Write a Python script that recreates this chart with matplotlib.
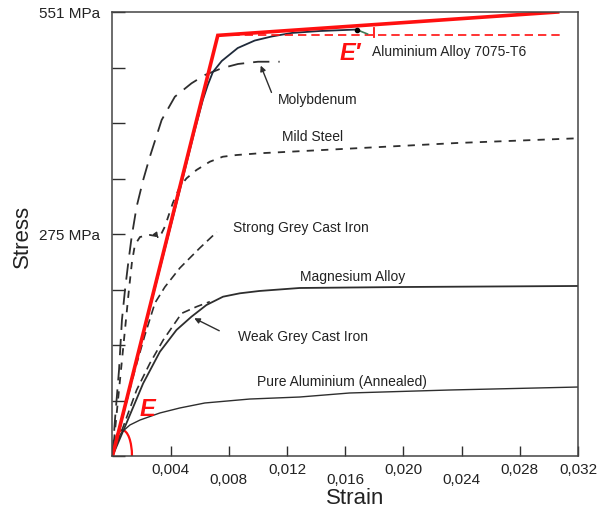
import numpy as np
import matplotlib.pyplot as plt
from matplotlib.patches import Arc

plt.rcParams['font.family'] = ['Liberation Sans', 'DejaVu Sans']

# values: strain (-), stress (MPa)
alu7075_strain = [0, 0.00257, 0.00463, 0.00566, 0.00621, 0.00655, 0.0069, 0.00751,
                  0.00861, 0.00978, 0.01094, 0.01232, 0.01424, 0.01684]
alu7075_stress = [0, 183.7, 330.1, 404.6, 441.8, 460.4, 476.5, 490.2,
                  506.3, 515.6, 520.6, 525.0, 527.4, 529.3]

moly_strain = [0, 0.00017, 0.00045, 0.00065, 0.00086, 0.00108, 0.00132, 0.00166, 0.00211,
               0.00257, 0.00338, 0.00429, 0.00543, 0.00635, 0.00749, 0.00863, 0.0100, 0.01149]
moly_stress = [0, 44.7, 106.7, 168.8, 206.0, 239.1, 272.2, 309.4, 342.5,
               371.4, 417.0, 445.9, 462.5, 472.8, 481.1, 486.5, 489.3, 489.3]

steel_strain = [0, 0.00038, 0.00079, 0.00113, 0.00134, 0.00154, 0.00189, 0.00257, 0.00326,
                0.0036, 0.00415, 0.00463, 0.00509, 0.00578, 0.00669, 0.00758, 0.00852,
                0.01012, 0.01218, 0.02364, 0.032]
steel_stress = [0, 69.5, 144.0, 206.0, 240.8, 261.9, 271.8, 274.3, 272.2,
                284.6, 314.0, 334.2, 344.6, 355.0, 365.2, 371.4, 373.5,
                375.7, 377.6, 388.4, 394.3]

strong_ci_strain = [0, 0.00031, 0.00086, 0.00154, 0.00223, 0.00292, 0.0036, 0.00463, 0.0060, 0.00717]
strong_ci_stress = [0, 19.9, 59.6, 106.7, 150.2, 189.9, 209.7, 233.3, 258.1, 278.0]

magnesium_strain = [0, 0.00086, 0.00211, 0.00326, 0.0044, 0.00543, 0.00646, 0.0076,
                    0.00875, 0.0101, 0.01286, 0.01973, 0.032]
magnesium_stress = [0, 36.4, 90.2, 129.4, 156.4, 172.9, 187.4, 197.7,
                    201.9, 204.8, 208.5, 209.7, 211.0]

weak_ci_strain = [0, 0.00074, 0.00166, 0.00257, 0.00349, 0.00475, 0.00578, 0.00669]
weak_ci_stress = [0, 36.4, 81.9, 115.0, 144.0, 177.0, 185.3, 191.5]

pure_al_strain = [0, 0.00031, 0.00065, 0.0012, 0.0019, 0.00326, 0.00463, 0.00635,
                  0.00943, 0.01286, 0.0163, 0.02316, 0.032]
pure_al_stress = [0, 19.9, 29.8, 38.5, 44.7, 53.4, 59.6, 65.8,
                  70.7, 73.2, 78.2, 81.9, 85.6]

# red bilinear model and offset line
model_strain = [0, 0.00724, 0.0306]
model_stress = [0, 522, 551]
offset_strain = [0.00724, 0.0309]
offset_stress = [522, 522]

major_x = [0.004, 0.012, 0.020, 0.028, 0.032]
minor_x = [0.008, 0.016, 0.024]
y_ticks = [551 / 8 * k for k in range(9)]

fig = plt.figure(figsize=(5.97, 5.13), dpi=100)
ax = fig.add_axes([0.1884, 0.1111, 0.7798, 0.8655])

ink = '#2e2e2e'
ax.plot(pure_al_strain, pure_al_stress, color=ink, lw=1.0)
ax.plot(magnesium_strain, magnesium_stress, color=ink, lw=1.3)
ax.plot(weak_ci_strain, weak_ci_stress, color=ink, lw=1.2, dashes=(5, 3))
ax.plot(strong_ci_strain, strong_ci_stress, color=ink, lw=1.2, dashes=(5, 3))
ax.plot(steel_strain, steel_stress, color=ink, lw=1.3, dashes=(4, 4))
ax.plot(moly_strain, moly_stress, color=ink, lw=1.3, dashes=(9, 5))
ax.plot(alu7075_strain, alu7075_stress, color='#1f2a3a', lw=1.3)

red = '#ff1010'
ax.plot(offset_strain, offset_stress, color=red, lw=1.2, dashes=(5, 3))
ax.plot(model_strain, model_stress, color=red, lw=2.6, solid_joinstyle='miter')
ax.plot([0.018, 0.018], [520, 531], color=red, lw=1.3)
ax.add_patch(Arc((0.00069, 0), 0.0013, 64, theta1=0, theta2=180, color=red, lw=1.6))

# leaders
ax.plot([0.01684, 0.01753], [528.7, 523.7], color='#3f7a55', lw=1.2)
ax.plot([0.01684], [528.7], 'o', color='black', ms=3)
arrow = dict(arrowstyle='-|>', color=ink, lw=1.0, mutation_scale=8)
ax.annotate('', xy=(0.01012, 487.7), xytext=(0.011, 448), arrowprops=arrow)
ax.annotate('', xy=(0.00545, 172.5), xytext=(0.00751, 153.9), arrowprops=arrow)
ax.annotate('', xy=(0.00326, 268), xytext=(0.00300, 274.5),
            arrowprops=dict(arrowstyle='-|>', color=ink, lw=1.0, mutation_scale=7))

lab = dict(fontsize=10, color='#222222', va='center', ha='left')
ax.text(0.01787, 501.4, 'Aluminium Alloy 7075-T6', **lab)
ax.text(0.01135, 441.8, 'Molybdenum', **lab)
ax.text(0.01163, 395.9, 'Mild Steel', **lab)
ax.text(0.00827, 283.0, 'Strong Grey Cast Iron', **lab)
ax.text(0.01286, 222.1, 'Magnesium Alloy', **lab)
ax.text(0.00861, 147.7, 'Weak Grey Cast Iron', **lab)
ax.text(0.00991, 91.8, 'Pure Aluminium (Annealed)', **lab)

ax.text(0.00237, 58.3, 'E', color=red, fontsize=17, fontweight='bold',
        fontstyle='italic', ha='center', va='center')
ax.text(0.01636, 500, "E\u2032", color=red, fontsize=17, fontweight='bold',
        fontstyle='italic', ha='center', va='center')

ax.set_xlim(0, 0.032)
ax.set_ylim(0, 551)

ax.set_xticks(major_x)
ax.set_xticklabels([f'{v:.3f}'.replace('.', ',') for v in major_x])
ax.set_xticks(minor_x, minor=True)
ax.set_xticklabels([f'{v:.3f}'.replace('.', ',') for v in minor_x], minor=True)
ax.tick_params(axis='x', which='major', direction='in', length=7, width=1,
               pad=5, labelsize=11, color=ink, labelcolor='#222222')
ax.tick_params(axis='x', which='minor', direction='in', length=7, width=1,
               pad=12, labelsize=11, color=ink, labelcolor='#222222')

ax.set_yticks(y_ticks)
ax.set_yticklabels(['275 MPa' if k == 4 else ('551 MPa' if k == 8 else '')
                    for k in range(9)])
ax.tick_params(axis='y', direction='in', length=9, width=1, pad=9,
               labelsize=11, color=ink, labelcolor='#222222')

for s in ax.spines.values():
    s.set_color('#444444')
    s.set_linewidth(1.1)

fig.text(355 / 597, 1 - 499 / 513, 'Strain', fontsize=16, ha='center', va='center', color='#222222')
fig.text(22 / 597, 1 - 236 / 513, 'Stress', fontsize=16, ha='center', va='center',
         rotation=90, color='#222222')

fig.savefig('out.png', dpi=100, facecolor='white')
